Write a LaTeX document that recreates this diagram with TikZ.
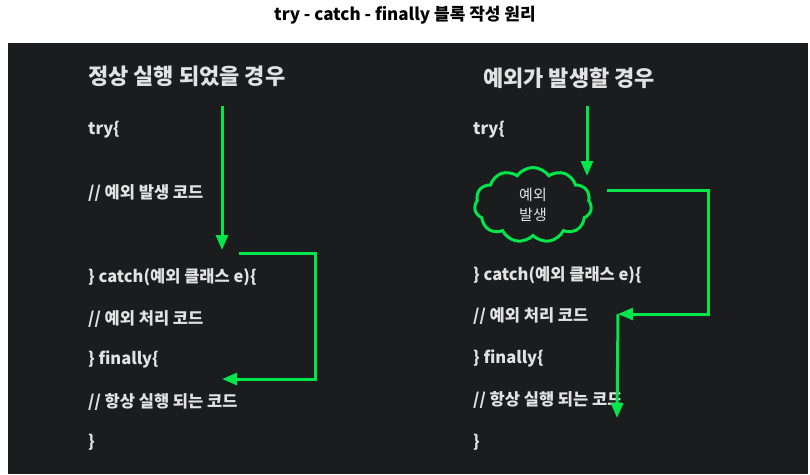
\documentclass[tikz,border=0pt]{standalone}
\usepackage{fontspec}
\setmainfont{Noto Sans CJK KR}
\usepackage{tikz}
\usetikzlibrary{arrows.meta,positioning,shapes.symbols}
\definecolor{panel}{HTML}{1B1C1E}
\definecolor{txt}{HTML}{E2E2E2}
\definecolor{grn}{HTML}{00E64B}
\tikzset{
  >={Triangle[length=15pt,width=12pt]},
  code/.style={anchor=west,inner sep=0pt,text=txt,font=\fontsize{16.5}{19}\selectfont\bfseries},
  head/.style={code,font=\fontsize{22}{26}\selectfont\bfseries},
  ttl/.style={inner sep=0pt,font=\fontsize{17}{20}\selectfont\bfseries},
  arr/.style={->,draw=grn,line width=3pt},
  burst/.style={cloud,cloud puffs=11,cloud puff arc=110,aspect=1.6,draw=grn,line width=3pt,
    minimum width=117pt,minimum height=75pt,inner sep=0pt,align=center,text=txt,
    font=\fontsize{15}{20}\selectfont},
}

\begin{document}
\begin{tikzpicture}[x=1pt,y=-1pt]
\useasboundingbox (0,0) rectangle (810,474);
\fill[white] (0,0) rectangle (810,474);
\fill[panel] (8,43) rectangle (808,474);
\node[ttl] (title) at (405,15) {try - catch - finally 블록 작성 원리};

% left: normal run
\node[head] (h1) at (88,76) {정상 실행 되었을 경우};
\node[code] (l1) at (88,130) {try\{};
\node[code] (l2) at (88,193) {// 예외 발생 코드};
\node[code] (l3) at (88,277) {\} catch(예외 클래스 e)\{};
\node[code] (l4) at (88,319) {// 예외 처리 코드};
\node[code] (l5) at (88,359) {\} finally\{};
\node[code] (l6) at (88,402) {// 항상 실행 되는 코드};
\node[code] (l7) at (88,442) {\}};
\coordinate (a1) at (222,106);
\coordinate (a2) at (222,250);
\coordinate (b1) at (239,253);
\coordinate (b2) at (315,253);
\coordinate (b3) at (315,379);
\coordinate (b4) at (222,379);
\draw[arr] (a1) -- (a2);
\draw[arr] (b1) -- (b2) -- (b3) -- (b4);

% right: exception thrown
\node[head] (h2) at (483,78) {예외가 발생할 경우};
\node[code] (r1) at (473,130) {try\{};
\node[burst] (ex) at (533,205) {예외\\발생};
\node[code] (r3) at (473,275) {\} catch(예외 클래스 e)\{};
\node[code] (r4) at (473,316) {// 예외 처리 코드};
\node[code] (r5) at (473,358) {\} finally\{};
\node[code] (r6) at (473,400) {// 항상 실행 되는 코드};
\node[code] (r7) at (473,442) {\}};
\coordinate (c1) at (587,106);
\coordinate (c2) at (587,176);
\coordinate (d1) at (607,190);
\coordinate (d2) at (708,190);
\coordinate (d3) at (708,314);
\coordinate (d4) at (618,314);
\coordinate (e2) at (617,418);
\draw[arr] (c1) -- (c2);
\draw[arr] (d1) -- (d2) -- (d3) -- (d4);
\draw[arr] (d4) -- (e2);
\end{tikzpicture}
\end{document}
